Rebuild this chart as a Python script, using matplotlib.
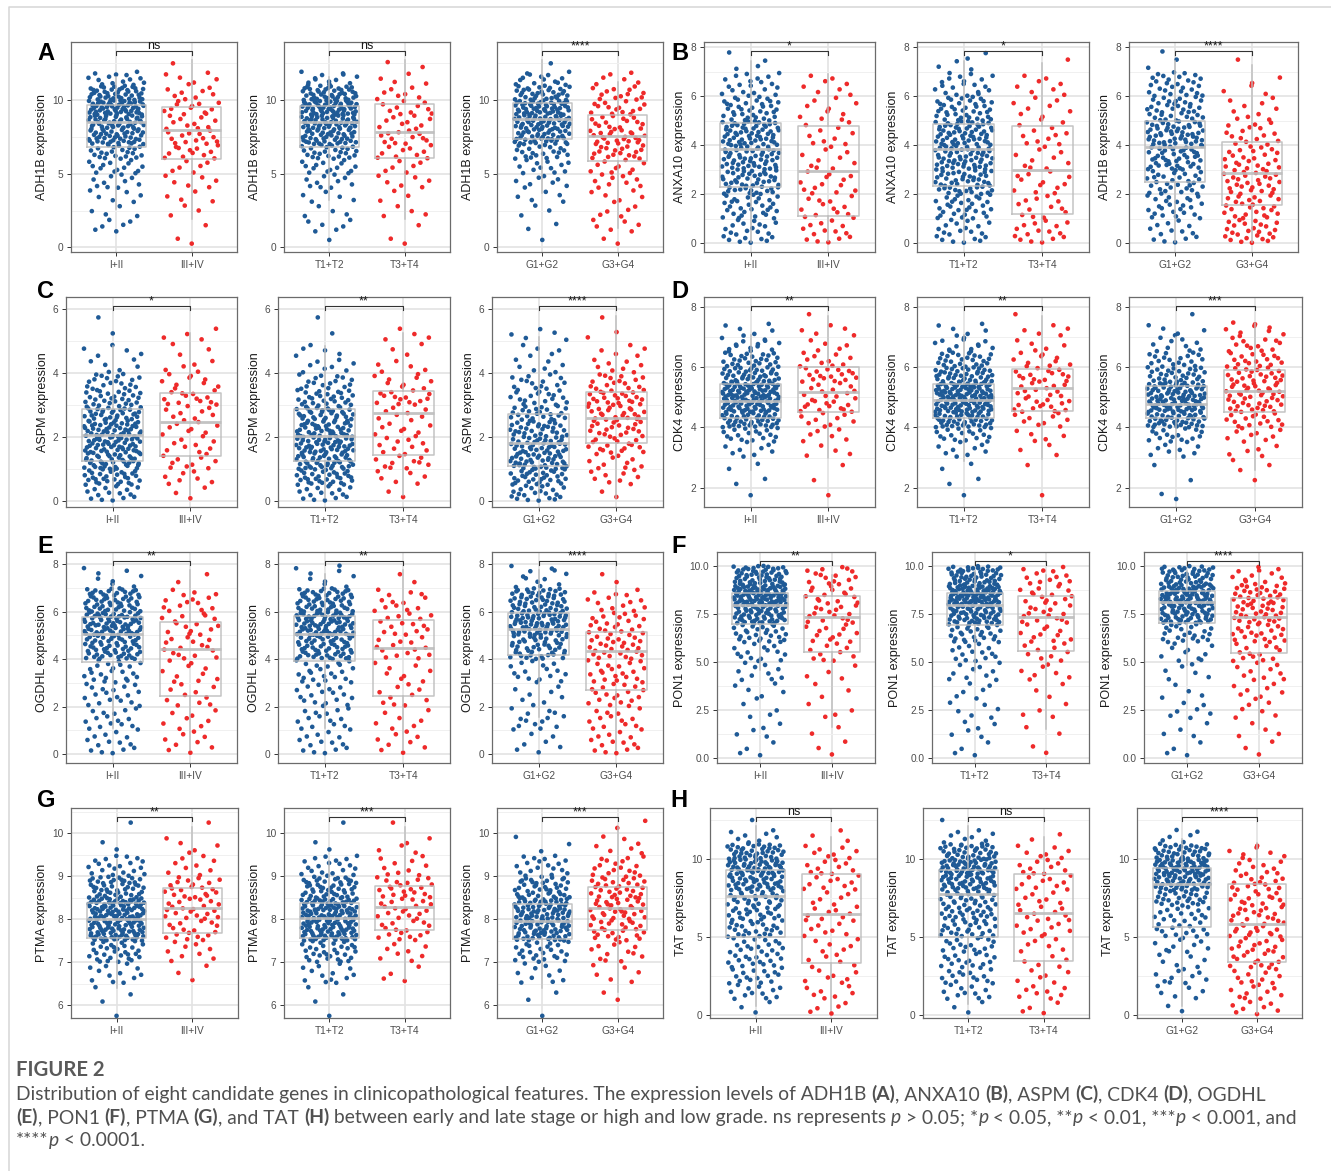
import matplotlib
import numpy as np
from matplotlib.lines import Line2D
from matplotlib.ticker import AutoMinorLocator, FixedLocator, FormatStrFormatter
from matplotlib.transforms import blended_transform_factory

matplotlib.use('Agg')
import matplotlib.pyplot as plt

plt.rcParams['font.family'] = ['Liberation Sans', 'DejaVu Sans']

W, H = 1331, 1171

# ── Data ─────────────────────────────────────────────────────────────────────
# counts = number of points per value bin (bin start, bin width per gene)
# boxes  = [whisker low, Q1, median, Q3, whisker high]
GENES = ['ADH1B', 'ANXA10', 'ASPM', 'CDK4', 'OGDHL', 'PON1', 'PTMA', 'TAT']
PANEL_LETTERS = ['A', 'B', 'C', 'D', 'E', 'F', 'G', 'H']
GROUP_LABELS = [['I+II', 'III+IV'], ['T1+T2', 'T3+T4'], ['G1+G2', 'G3+G4']]

ADH1B_YLABELS = ['ADH1B expression'] * 3
ADH1B_YLIM = (-0.32, 13.95)
ADH1B_TICKS = [0, 5, 10]
ADH1B_BINS = (0.0, 1.0)
ADH1B_COUNTS = [
    [[0, 6, 4, 6, 10, 14, 22, 40, 45, 55, 40, 14], [2, 1, 3, 4, 6, 6, 12, 13, 10, 12, 8, 6, 1]],
    [[1, 6, 4, 5, 10, 14, 24, 40, 48, 55, 40, 13], [2, 1, 4, 3, 6, 6, 10, 12, 9, 10, 7, 4, 2]],
    [[1, 2, 3, 5, 8, 12, 20, 38, 45, 48, 32, 14, 1], [2, 6, 5, 6, 9, 10, 17, 22, 15, 14, 13, 6]],
]
ADH1B_BOXES = [
    [[2.6, 6.83, 8.49, 9.66, 11.6], [1.9, 5.97, 7.96, 9.5, 12.7]],
    [[3.2, 6.83, 8.49, 9.59, 11.6], [1.9, 6.08, 7.85, 9.71, 12.7]],
    [[3.7, 7.35, 8.75, 9.8, 12.7], [1.3, 5.89, 7.53, 8.99, 11.2]],
]
ADH1B_SIG = ['ns', 'ns', '****']

ANXA10_YLABELS = ['ANXA10 expression', 'ANXA10 expression', 'ADH1B expression']
ANXA10_YLIM = (-0.36, 8.22)
ANXA10_TICKS = [0, 2, 4, 6, 8]
ANXA10_BINS = (0.0, 1.0)
ANXA10_COUNTS = [
    [[22, 30, 45, 50, 55, 35, 20, 4], [14, 13, 13, 10, 10, 10, 8, 0]],
    [[20, 30, 45, 52, 55, 38, 20, 5], [16, 12, 12, 10, 11, 9, 8, 1]],
    [[14, 24, 30, 42, 50, 35, 28, 3], [25, 24, 27, 22, 16, 10, 5, 1]],
]
ANXA10_BOXES = [
    [[0.05, 2.29, 3.85, 4.9, 7.45], [0.1, 1.11, 2.96, 4.8, 6.9]],
    [[0.05, 2.35, 3.85, 4.88, 7.45], [0.1, 1.2, 2.98, 4.8, 7.35]],
    [[0.05, 2.52, 3.95, 5.0, 7.45], [0.05, 1.56, 2.88, 4.12, 7.3]],
]
ANXA10_SIG = ['*', '*', '****']

ASPM_YLABELS = ['ASPM expression'] * 3
ASPM_YLIM = (-0.19, 6.39)
ASPM_TICKS = [0, 2, 4, 6]
ASPM_BINS = (0.0, 0.5)
ASPM_COUNTS = [
    [[15, 30, 38, 42, 42, 35, 25, 18, 6, 5, 1, 1], [3, 7, 10, 8, 9, 9, 13, 9, 5, 3, 4, 0]],
    [[15, 32, 40, 44, 40, 35, 25, 16, 8, 5, 1, 1], [2, 6, 11, 9, 8, 8, 14, 9, 5, 3, 4, 0]],
    [[20, 30, 38, 35, 30, 25, 18, 14, 7, 5, 5, 0], [2, 9, 10, 16, 18, 22, 22, 15, 8, 5, 2, 1]],
]
ASPM_BOXES = [
    [[0.1, 1.25, 2.07, 2.87, 4.85], [0.2, 1.41, 2.46, 3.39, 5.25]],
    [[0.1, 1.25, 2.02, 2.87, 4.85], [0.2, 1.43, 2.77, 3.43, 5.25]],
    [[0.1, 1.09, 1.82, 2.73, 5.15], [0.1, 1.82, 2.6, 3.41, 5.8]],
]
ASPM_SIG = ['*', '**', '****']

CDK4_YLABELS = ['CDK4 expression'] * 3
CDK4_YLIM = (1.36, 8.32)
CDK4_TICKS = [2, 4, 6, 8]
CDK4_BINS = (1.5, 0.5)
CDK4_COUNTS = [
    [[1, 2, 2, 8, 18, 40, 55, 58, 38, 25, 14, 6, 0], [1, 1, 1, 4, 6, 9, 14, 11, 16, 10, 5, 5, 1]],
    [[1, 2, 2, 8, 18, 42, 55, 58, 38, 24, 13, 6, 0], [1, 0, 1, 3, 5, 9, 14, 12, 14, 10, 5, 5, 1]],
    [[2, 1, 1, 8, 16, 40, 52, 45, 28, 18, 10, 5, 1], [0, 1, 3, 5, 9, 15, 20, 22, 20, 16, 12, 9, 0]],
]
CDK4_BOXES = [
    [[2.6, 4.3, 4.87, 5.43, 7.06], [2.97, 4.5, 5.16, 6.01, 7.7]],
    [[2.9, 4.31, 4.9, 5.43, 7.05], [2.95, 4.54, 5.29, 5.92, 7.7]],
    [[2.95, 4.32, 4.77, 5.37, 7.0], [2.58, 4.5, 5.2, 5.9, 7.45]],
]
CDK4_SIG = ['**', '**', '***']

OGDHL_YLABELS = ['OGDHL expression'] * 3
OGDHL_YLIM = (-0.38, 8.52)
OGDHL_TICKS = [0, 2, 4, 6, 8]
OGDHL_BINS = (0.0, 1.0)
OGDHL_COUNTS = [
    [[14, 16, 18, 22, 55, 70, 55, 8], [9, 8, 10, 10, 15, 15, 14, 2]],
    [[14, 15, 17, 22, 55, 72, 55, 9], [9, 7, 10, 8, 14, 15, 13, 2]],
    [[7, 14, 8, 16, 45, 70, 55, 12], [14, 14, 18, 20, 26, 22, 14, 2]],
]
OGDHL_BOXES = [
    [[1.08, 3.89, 5.05, 5.79, 7.15], [0.15, 2.46, 4.41, 5.58, 7.75]],
    [[1.1, 3.94, 5.05, 5.84, 7.6], [0.15, 2.45, 4.48, 5.65, 7.75]],
    [[1.55, 4.18, 5.27, 5.93, 7.75], [0.15, 2.7, 4.34, 5.16, 7.1]],
]
OGDHL_SIG = ['**', '**', '****']

PON1_YLABELS = ['PON1 expression'] * 3
PON1_YLIM = (-0.28, 10.71)
PON1_TICKS = [0, 2.5, 5, 7.5, 10]
PON1_BINS = (0.0, 1.0)
PON1_COUNTS = [
    [[4, 5, 4, 6, 10, 14, 28, 55, 85, 55], [3, 2, 4, 3, 4, 10, 12, 15, 15, 15]],
    [[4, 6, 6, 6, 10, 14, 28, 55, 85, 52], [2, 2, 4, 3, 7, 9, 11, 14, 14, 13]],
    [[4, 4, 7, 4, 6, 10, 22, 55, 70, 48], [3, 4, 6, 8, 10, 13, 20, 25, 28, 13]],
]
PON1_BOXES = [
    [[4.55, 6.95, 7.94, 8.56, 9.7], [1.6, 5.51, 7.33, 8.41, 9.5]],
    [[4.45, 6.9, 7.94, 8.56, 9.7], [1.5, 5.56, 7.33, 8.4, 9.5]],
    [[4.81, 7.02, 8.08, 8.69, 9.7], [1.5, 5.46, 7.3, 8.29, 9.6]],
]
PON1_SIG = ['**', '*', '****']

PTMA_YLABELS = ['PTMA expression'] * 3
PTMA_YLIM = (5.70, 10.59)
PTMA_TICKS = [6, 7, 8, 9, 10]
PTMA_BINS = (5.5, 0.5)
PTMA_COUNTS = [
    [[1, 3, 12, 30, 70, 75, 45, 20, 2, 1], [0, 0, 3, 9, 16, 20, 20, 9, 5, 1]],
    [[1, 3, 13, 30, 72, 74, 44, 19, 2, 1], [0, 0, 4, 8, 16, 18, 20, 10, 5, 1]],
    [[1, 2, 10, 25, 60, 65, 40, 18, 3, 0], [0, 2, 6, 12, 24, 30, 28, 16, 7, 2]],
]
PTMA_BOXES = [
    [[6.39, 7.57, 8.0, 8.38, 9.38], [6.64, 7.69, 8.27, 8.73, 10.15]],
    [[6.37, 7.57, 8.02, 8.38, 9.35], [6.6, 7.75, 8.29, 8.77, 10.15]],
    [[6.4, 7.55, 7.95, 8.35, 9.35], [6.3, 7.75, 8.25, 8.75, 10.15]],
]
PTMA_SIG = ['**', '***', '***']

TAT_YLABELS = ['TAT expression'] * 3
TAT_YLIM = (-0.19, 13.27)
TAT_TICKS = [0, 5, 10]
TAT_BINS = (0.0, 1.0)
TAT_COUNTS = [
    [[3, 12, 15, 17, 16, 22, 24, 26, 40, 48, 38, 8, 1], [5, 7, 7, 6, 6, 7, 10, 6, 10, 10, 8, 3]],
    [[3, 11, 14, 16, 16, 22, 26, 26, 42, 50, 37, 8, 1], [4, 8, 6, 5, 6, 8, 10, 7, 10, 10, 7, 2]],
    [[2, 6, 10, 6, 10, 14, 16, 25, 45, 55, 35, 6], [8, 10, 10, 13, 13, 16, 15, 14, 14, 10, 7]],
]
TAT_BOXES = [
    [[0.6, 5.02, 7.63, 9.29, 12.1], [0.3, 3.31, 6.46, 9.04, 11.4]],
    [[0.7, 5.02, 7.74, 9.29, 12.1], [0.3, 3.48, 6.56, 9.04, 11.4]],
    [[0.6, 5.64, 8.4, 9.42, 11.3], [0.1, 3.4, 5.83, 8.4, 11.0]],
]
TAT_SIG = ['ns', 'ns', '****']

CAPTION_TITLE = 'FIGURE 2'
CAPTION_LINES = [
    [('Distribution of eight candidate genes in clinicopathological features. The expression levels of ADH1B ', ''),
     ('(A)', 'b'), (', ANXA10 ', ''), ('(B)', 'b'), (', ASPM ', ''), ('(C)', 'b'),
     (', CDK4 ', ''), ('(D)', 'b'), (', OGDHL', '')],
    [('(E)', 'b'), (', PON1 ', ''), ('(F)', 'b'), (', PTMA ', ''), ('(G)', 'b'), (', and TAT ', ''),
     ('(H)', 'b'), (' between early and late stage or high and low grade. ns represents ', ''),
     ('p', 'i'), (' > 0.05; *', ''), ('p', 'i'), (' < 0.05, **', ''), ('p', 'i'), (' < 0.01, ***', ''),
     ('p', 'i'), (' < 0.001, and', '')],
    [('****', ''), ('p', 'i'), (' < 0.0001.', '')],
]

GENE_TABLE = [
    dict(ylabels=ADH1B_YLABELS, ylim=ADH1B_YLIM, ticks=ADH1B_TICKS, bins=ADH1B_BINS,
         counts=ADH1B_COUNTS, boxes=ADH1B_BOXES, sig=ADH1B_SIG, fmt='%g'),
    dict(ylabels=ANXA10_YLABELS, ylim=ANXA10_YLIM, ticks=ANXA10_TICKS, bins=ANXA10_BINS,
         counts=ANXA10_COUNTS, boxes=ANXA10_BOXES, sig=ANXA10_SIG, fmt='%g'),
    dict(ylabels=ASPM_YLABELS, ylim=ASPM_YLIM, ticks=ASPM_TICKS, bins=ASPM_BINS,
         counts=ASPM_COUNTS, boxes=ASPM_BOXES, sig=ASPM_SIG, fmt='%g'),
    dict(ylabels=CDK4_YLABELS, ylim=CDK4_YLIM, ticks=CDK4_TICKS, bins=CDK4_BINS,
         counts=CDK4_COUNTS, boxes=CDK4_BOXES, sig=CDK4_SIG, fmt='%g'),
    dict(ylabels=OGDHL_YLABELS, ylim=OGDHL_YLIM, ticks=OGDHL_TICKS, bins=OGDHL_BINS,
         counts=OGDHL_COUNTS, boxes=OGDHL_BOXES, sig=OGDHL_SIG, fmt='%g'),
    dict(ylabels=PON1_YLABELS, ylim=PON1_YLIM, ticks=PON1_TICKS, bins=PON1_BINS,
         counts=PON1_COUNTS, boxes=PON1_BOXES, sig=PON1_SIG, fmt='%.1f'),
    dict(ylabels=PTMA_YLABELS, ylim=PTMA_YLIM, ticks=PTMA_TICKS, bins=PTMA_BINS,
         counts=PTMA_COUNTS, boxes=PTMA_BOXES, sig=PTMA_SIG, fmt='%g'),
    dict(ylabels=TAT_YLABELS, ylim=TAT_YLIM, ticks=TAT_TICKS, bins=TAT_BINS,
         counts=TAT_COUNTS, boxes=TAT_BOXES, sig=TAT_SIG, fmt='%g'),
]

# ── Layout (pixels) ───────────────────────────────────────────────────────────
ROW_Y = [(42, 252), (297, 507), (552, 763), (808, 1018)]
COL_LEFT = [[71, 284, 497, 704, 917, 1129],
            [66, 278, 492, 704, 917, 1129],
            [66, 278, 492, 717, 932, 1144],
            [71, 284, 497, 710, 923, 1137]]
COL_RIGHT = [[237, 450, 663, 875, 1089, 1298],
             [237, 450, 663, 875, 1089, 1302],
             [237, 450, 663, 875, 1089, 1302],
             [238, 450, 663, 877, 1089, 1302]]
LETTER_POS = [(37, 60), (671, 60), (37, 298), (671, 298),
              (37, 553), (671, 553), (37, 807), (670, 807)]

COLORS = ['#1F5A96', '#EE2A2A']
BOX_COLOR = '#BDBDBD'
GRID_MAJOR = '#E3E3E3'
GRID_MINOR = '#F0F0F0'


def halton(i, base):
    f, r = 1.0, 0.0
    while i > 0:
        f /= base
        r += f * (i % base)
        i //= base
    return r


def expand_bins(counts, start, width):
    # spread each bin's points over the bin (Halton base 3)
    vals = []
    for b, n in enumerate(counts):
        for j in range(n):
            vals.append(start + width * (b + (halton(j, 3) + 0.5 / n) % 1.0))
    return np.array(vals)


def jitter(n, half=0.37):
    # horizontal spread (Halton base 2)
    return np.array([(halton(k + 1, 2) - 0.5) * 2 * half for k in range(n)])


def draw_panel(ax, gene, p):
    ylo, yhi = gene['ylim']
    start, width = gene['bins']
    for g in range(2):
        vals = expand_bins(gene['counts'][p][g], start, width)
        xs = 1 + g + jitter(len(vals))
        ax.scatter(xs, vals, s=11, color=COLORS[g], edgecolors='none', zorder=2)
    stats = []
    for g in range(2):
        lo, q1, med, q3, hi = gene['boxes'][p][g]
        stats.append(dict(whislo=lo, q1=q1, med=med, q3=q3, whishi=hi, fliers=[]))
    ax.bxp(stats, positions=[1, 2], widths=0.78, showfliers=False, showcaps=False,
           manage_ticks=False,
           boxprops=dict(color=BOX_COLOR, lw=1.1, alpha=0.9),
           whiskerprops=dict(color=BOX_COLOR, lw=1.1, alpha=0.9),
           medianprops=dict(color=BOX_COLOR, lw=2.0, alpha=0.9), zorder=3)

    ax.set_xlim(0.4, 2.6)
    ax.set_ylim(ylo, yhi)
    ax.set_xticks([1, 2])
    ax.set_xticklabels(GROUP_LABELS[p])
    ax.yaxis.set_major_locator(FixedLocator(gene['ticks']))
    ax.yaxis.set_major_formatter(FormatStrFormatter(gene['fmt']))
    ax.yaxis.set_minor_locator(AutoMinorLocator(2))
    ax.set_axisbelow(True)
    ax.grid(True, which='major', color=GRID_MAJOR, linewidth=1.2)
    ax.grid(True, which='minor', axis='y', color=GRID_MINOR, linewidth=0.7)
    ax.tick_params(which='major', length=3, width=0.7, color='#333333',
                   labelcolor='#4D4D4D', labelsize=7.3, pad=2.5)
    ax.tick_params(which='minor', length=0)
    for s in ax.spines.values():
        s.set_color('#6B6B6B')
        s.set_linewidth(0.9)
    ax.set_ylabel(gene['ylabels'][p], fontsize=9, color='#1A1A1A', labelpad=3)

    # significance bracket
    tr = blended_transform_factory(ax.transData, ax.transAxes)
    bt, drop = 0.957, 0.02
    ax.plot([1, 1, 2, 2], [bt - drop, bt, bt, bt - drop], transform=tr,
            color='#333333', lw=0.8, clip_on=False, zorder=4)
    ax.annotate(gene['sig'][p], xy=(1.5, bt), xycoords=tr, xytext=(0, 1.2),
                textcoords='offset points', ha='center', va='baseline',
                fontsize=9, color='#1A1A1A', zorder=5, annotation_clip=False)


fig = plt.figure(figsize=(W / 100, H / 100), dpi=100)

# thin gray frame round the figure page
fig.add_artist(Line2D([9 / W, 9 / W, 1.0], [0.0, 1 - 7 / H, 1 - 7 / H],
                      transform=fig.transFigure, color='#D6D6D6', lw=1.1))

for gi, gene in enumerate(GENE_TABLE):
    row, half = gi // 2, gi % 2
    top, bot = ROW_Y[row]
    for p in range(3):
        col = half * 3 + p
        l, r = COL_LEFT[row][col], COL_RIGHT[row][col]
        ax = fig.add_axes([l / W, 1 - bot / H, (r - l) / W, (bot - top) / H])
        draw_panel(ax, gene, p)
    lx, ly = LETTER_POS[gi]
    fig.text(lx / W, 1 - ly / H, PANEL_LETTERS[gi], fontsize=17, fontweight='bold',
             ha='left', va='baseline', color='black')

# ── Caption ───────────────────────────────────────────────────────────────────
CAP_FONT = ['Lato', 'DejaVu Sans']
CAP_COLOR = '#505050'
renderer = fig.canvas.get_renderer()


def draw_runs(x_px, y_px, runs, size):
    x = x_px
    made = []
    for s, style in runs:
        kw = {}
        if style == 'b':
            kw['fontweight'] = 'bold'
        if style == 'i':
            kw['fontstyle'] = 'italic'
        t = fig.text(x / W, 1 - y_px / H, s, fontsize=size, color=CAP_COLOR,
                     ha='left', va='baseline', family=CAP_FONT, **kw)
        made.append(t)
        x += t.get_window_extent(renderer).width
    return x, made


# fit the second caption line to the page width
end, tmp = draw_runs(16, 1123, CAPTION_LINES[1], 11)
for t in tmp:
    t.remove()
cap_size = 11 * (1300 - 16) / (end - 16)

fig.text(16 / W, 1 - 1076 / H, CAPTION_TITLE, fontsize=cap_size * 1.05, fontweight='bold',
         color='#5A5A5A', ha='left', va='baseline', family=CAP_FONT)
for i, line in enumerate(CAPTION_LINES):
    draw_runs(16, 1100 + 23 * i, line, cap_size)

fig.savefig('out.png', dpi=100)
